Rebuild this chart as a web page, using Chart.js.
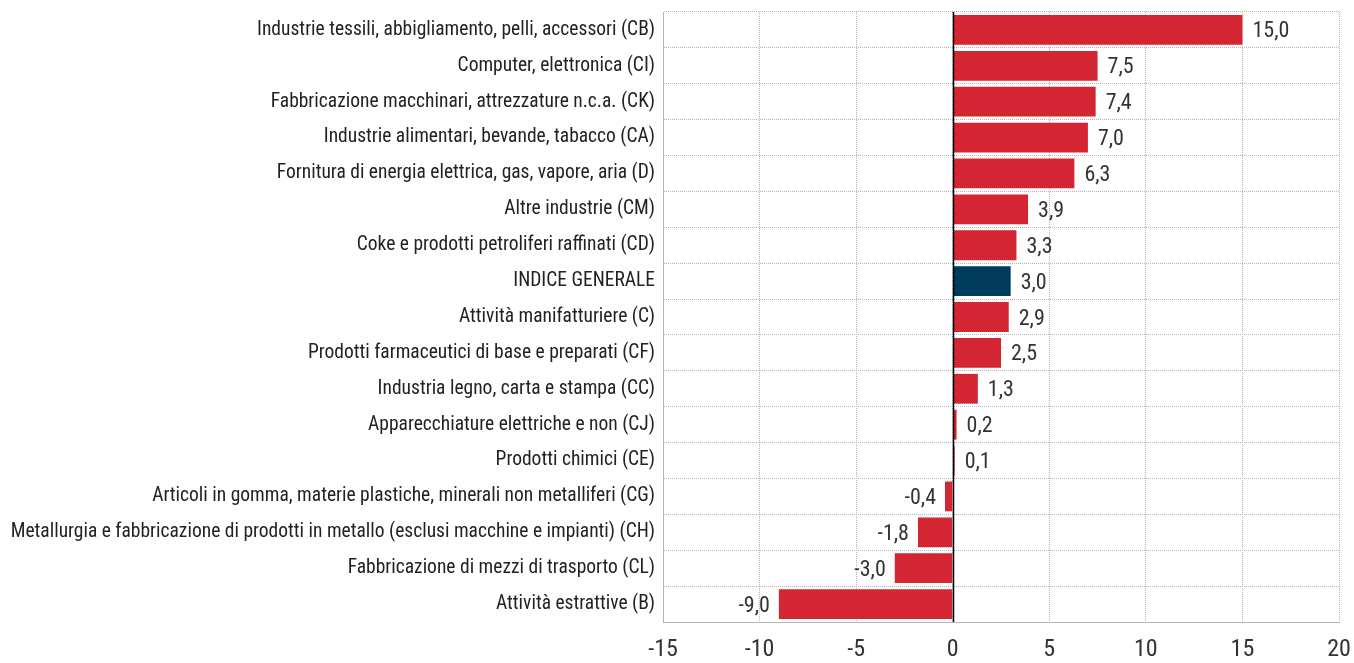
<!DOCTYPE html>
<html>
<head>
<meta charset="utf-8">
<script src="https://cdn.jsdelivr.net/npm/chart.js@4"></script>
<style>
  html, body { margin: 0; padding: 0; background: #fff; }
  #wrap { width: 1354px; height: 663px; }
</style>
</head>
<body>
<div id="wrap"><canvas id="settori" width="1354" height="663"></canvas></div>
<script>
const categories = [
  'Industrie tessili, abbigliamento, pelli, accessori (CB)',
  'Computer, elettronica (CI)',
  'Fabbricazione macchinari, attrezzature n.c.a. (CK)',
  'Industrie alimentari, bevande, tabacco (CA)',
  'Fornitura di energia elettrica, gas, vapore, aria (D)',
  'Altre industrie (CM)',
  'Coke e prodotti petroliferi raffinati (CD)',
  'INDICE GENERALE',
  'Attività manifatturiere (C)',
  'Prodotti farmaceutici di base e preparati (CF)',
  'Industria legno, carta e stampa (CC)',
  'Apparecchiature elettriche e non (CJ)',
  'Prodotti chimici (CE)',
  'Articoli in gomma, materie plastiche, minerali non metalliferi (CG)',
  'Metallurgia e fabbricazione di prodotti in metallo (esclusi macchine e impianti) (CH)',
  'Fabbricazione di mezzi di trasporto (CL)',
  'Attività estrattive (B)'
]
const values = [15.0, 7.5, 7.4, 7.0, 6.3, 3.9, 3.3, 3.0, 2.9, 2.5, 1.3, 0.2, 0.1, -0.4, -1.8, -3.0, -9.0]
const xTicks = [-15, -10, -5, 0, 5, 10, 15, 20]

const fontFamily = "'Liberation Sans Narrow', 'Arial Narrow', 'Roboto Condensed', 'Liberation Sans', sans-serif"
const red = '#d42632'
const navy = '#003a5c'
const barColors = categories.map(c => c === 'INDICE GENERALE' ? navy : red)

const fmt = v => v.toFixed(1).replace('.', ',')

// linea dello zero + etichette valori
const extras = {
  id: 'extras',
  afterDatasetsDraw(chart) {
    const ctx = chart.ctx
    const xs = chart.scales.x
    const area = chart.chartArea
    const x0 = Math.round(xs.getPixelForValue(0)) + 0.5
    ctx.save()
    ctx.strokeStyle = '#000'
    ctx.lineWidth = 1.5
    ctx.beginPath()
    ctx.moveTo(x0, area.top)
    ctx.lineTo(x0, area.bottom)
    ctx.stroke()

    ctx.font = '22px ' + fontFamily
    ctx.fillStyle = '#333'
    ctx.textBaseline = 'middle'
    chart.getDatasetMeta(0).data.forEach((bar, i) => {
      const v = values[i]
      if (v >= 0) {
        ctx.textAlign = 'left'
        ctx.fillText(fmt(v), bar.x + 10, bar.y + 2)
      } else {
        ctx.textAlign = 'right'
        ctx.fillText(fmt(v), bar.x - 9, bar.y + 2)
      }
    })
    ctx.restore()
  }
}

const ctx = document.querySelector('#settori')
const chart = new Chart(ctx, {
  type: 'bar',
  data: {
    labels: categories,
    datasets: [{
      data: values,
      backgroundColor: barColors,
      borderWidth: 0,
      barPercentage: 0.83,
      categoryPercentage: 1
    }]
  },
  options: {
    indexAxis: 'y',
    responsive: false,
    animation: false,
    layout: { padding: { top: 12, right: 15, left: 0, bottom: 0 } },
    plugins: {
      legend: { display: false },
      tooltip: { enabled: false }
    },
    scales: {
      x: {
        min: -15,
        max: 20,
        afterBuildTicks(scale) {
          scale.ticks = xTicks.map(v => ({ value: v }))
        },
        afterFit(scale) {
          scale.height = 41
          scale.paddingLeft = 0
          scale.paddingRight = 0
        },
        grid: {
          color: '#b4b4b4',
          lineWidth: 1,
          drawTicks: false
        },
        border: { display: true, color: '#b4b4b4', dash: [1, 1] },
        ticks: {
          color: '#333',
          padding: 14,
          font: { family: fontFamily, size: 24 }
        }
      },
      y: {
        afterFit(scale) {
          scale.width = 663
          scale.paddingTop = 0
          scale.paddingBottom = 0
        },
        grid: {
          color: '#b4b4b4',
          lineWidth: 1,
          drawTicks: false
        },
        border: { display: true, color: '#b4b4b4', dash: [1, 1] },
        ticks: {
          color: '#222',
          padding: 8,
          font: { family: fontFamily, size: 19.5 }
        }
      }
    }
  },
  plugins: [extras]
})
</script>
</body>
</html>
